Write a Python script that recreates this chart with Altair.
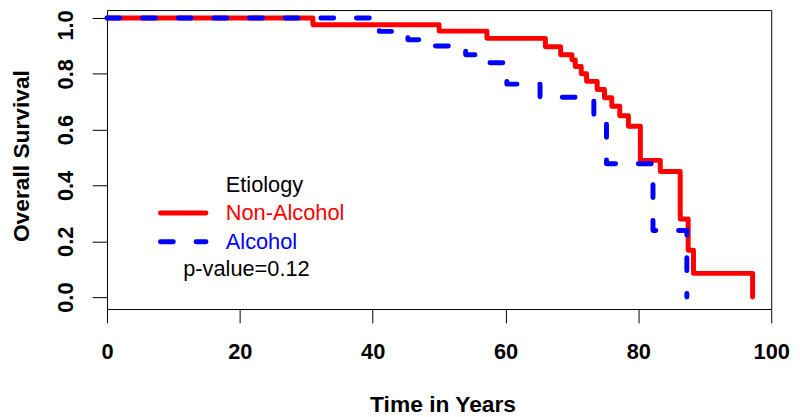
import altair as alt
import pandas as pd

categories = ["Non-Alcohol", "Alcohol"]

non_alcohol_time = [0.0, 31.0, 50.0, 57.2, 66.0, 68.3, 70.0, 70.5, 71.4, 72.2, 73.8,
                    74.9, 76.0, 77.2, 78.5, 80.3, 83.3, 86.3, 87.5, 88.3, 97.2]
non_alcohol_surv = [1.0, 0.976, 0.953, 0.927, 0.897, 0.868, 0.85, 0.826, 0.80, 0.773, 0.744,
                    0.714, 0.684, 0.650, 0.612, 0.49, 0.45, 0.28, 0.168, 0.085, 0.0]

alcohol_time = [0.0, 41.0, 45.3, 47.0, 54.0, 56.0, 60.2, 65.2, 73.3, 75.2, 82.2, 87.3]
alcohol_surv = [1.0, 0.952, 0.922, 0.90, 0.868, 0.84, 0.763, 0.716, 0.637, 0.478, 0.239, 0.0]

x_ticks = [0, 20, 40, 60, 80, 100]
y_ticks = [0.0, 0.2, 0.4, 0.6, 0.8, 1.0]

legend_title = "Etiology"
p_text = "p-value=0.12"
x_title = "Time in Years"
y_title = "Overall Survival"

FONT = "Liberation Sans"
RED = "#FF0000"
BLUE = "#0000FF"

red_df = pd.DataFrame({"time": non_alcohol_time, "surv": non_alcohol_surv, "group": categories[0]})
blue_df = pd.DataFrame({"time": alcohol_time, "surv": alcohol_surv, "group": categories[1]})

x_enc = alt.X(
    "time:Q",
    scale=alt.Scale(domain=[0, 100], nice=False, zero=False),
    axis=alt.Axis(values=x_ticks, format="d", title=x_title, tickSize=14,
                  labelPadding=36, labelBaseline="alphabetic", labelFlush=False,
                  titleX=339, titleY=104, titleAlign="center",
                  titleBaseline="alphabetic", titleFontSize=23),
)
y_enc = alt.Y(
    "surv:Q",
    scale=alt.Scale(domain=[-0.0426, 1.0284], nice=False, zero=False),
    axis=alt.Axis(values=y_ticks, format=".1f", title=y_title, tickSize=15,
                  labelAngle=270, labelAlign="center", labelBaseline="alphabetic",
                  labelPadding=20, labelFlush=False,
                  labelOffset={"condition": {"test": "datum.value >= 0.99", "value": 7}, "value": 0},
                  titleX=-79, titleY=147, titleAngle=270, titleAlign="center",
                  titleBaseline="alphabetic", titleFontSize=23),
)

red_line = alt.Chart(red_df).mark_line(
    interpolate="step-after", color=RED, strokeWidth=5, strokeCap="round", strokeJoin="round"
).encode(x=x_enc, y=y_enc)

blue_line = alt.Chart(blue_df).mark_line(
    interpolate="step-after", color=BLUE, strokeWidth=5, strokeCap="round",
    strokeJoin="round", strokeDash=[13, 23]
).encode(x="time:Q", y="surv:Q")


def text_layer(txt, xpx, ypx, color):
    return alt.Chart(pd.DataFrame({"label": [txt]})).mark_text(
        align="left", baseline="middle", font=FONT, fontSize=22, color=color
    ).encode(text="label:N", x=alt.value(xpx), y=alt.value(ypx))


def rule_layer(name, ypx, color, dash=None):
    kw = dict(color=color, strokeWidth=5, strokeCap="round")
    if dash is not None:
        kw["strokeDash"] = dash
    return alt.Chart(pd.DataFrame({"label": [name]})).mark_rule(**kw).encode(
        x=alt.value(54), x2=alt.value(100), y=alt.value(ypx)
    )


layers = [
    red_line,
    blue_line,
    text_layer(legend_title, 120, 177, "black"),
    rule_layer(categories[0], 205, RED),
    text_layer(categories[0], 120, 205, RED),
    rule_layer(categories[1], 234, BLUE, [13, 23]),
    text_layer(categories[1], 120, 234, BLUE),
    text_layer(p_text, 77, 262, "black"),
]

chart = alt.layer(*layers).properties(
    width=671,
    height=302,
    autosize="none",
    padding={"left": 100, "top": 0, "right": 21, "bottom": 107},
    background="white",
).configure_view(
    stroke="black", strokeWidth=1
).configure_axis(
    grid=False,
    domain=False,
    tickColor="black",
    tickWidth=1,
    labelFont=FONT,
    labelFontSize=22,
    labelFontWeight="bold",
    labelColor="black",
    titleFont=FONT,
    titleFontSize=23,
    titleFontWeight="bold",
    titleColor="black",
)

chart.save("out.html", embed_options={"renderer": "svg", "actions": False})
